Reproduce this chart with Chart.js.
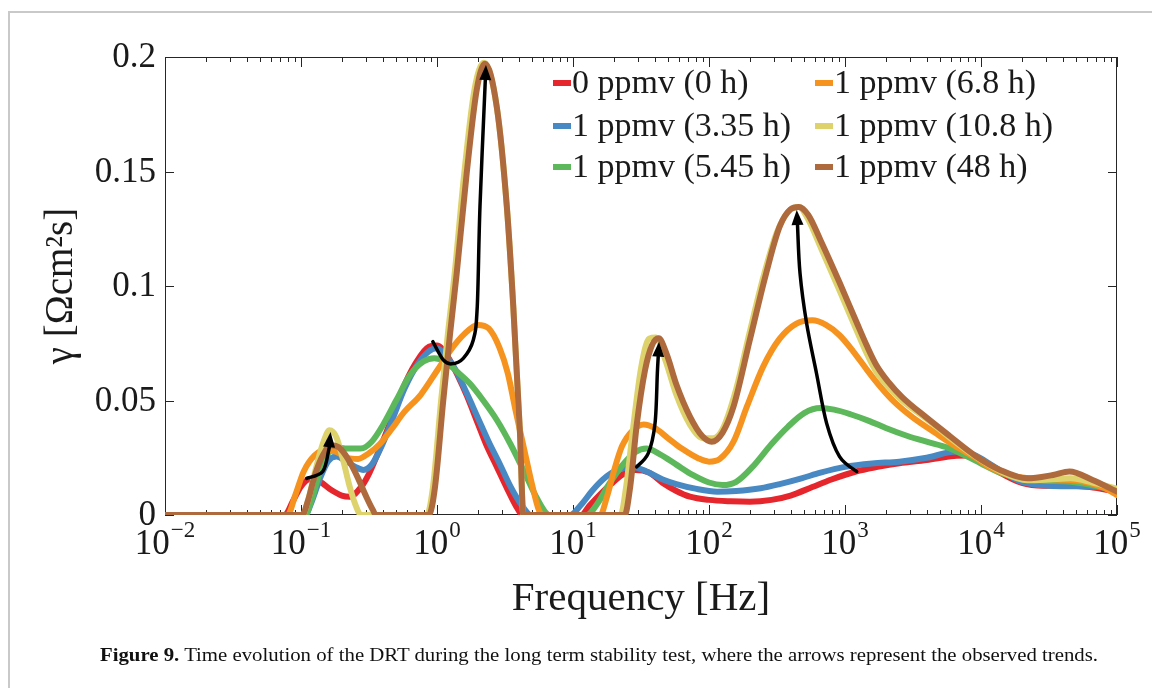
<!DOCTYPE html>
<html>
<head>
<meta charset="utf-8">
<script src="https://cdn.jsdelivr.net/npm/chart.js@4.4.1/dist/chart.umd.min.js"></script>
<style>
  html, body { margin: 0; padding: 0; background: #fff; }
  #wrap { position: relative; width: 1152px; height: 688px; overflow: hidden; background: #fff; }
  #c { position: absolute; left: 0; top: 0; }
  .frameTop { position: absolute; left: 8px; top: 11px; width: 1144px; height: 2px; background: #c9c9c9; }
  .frameLeft { position: absolute; left: 8px; top: 11px; width: 2px; height: 677px; background: #c9c9c9; }
  #caption { position: absolute; left: 100px; top: 644px; white-space: nowrap; transform-origin: 0 0;
             font-family: "Liberation Serif", "Times New Roman", serif; font-size: 19.5px; color: #111; }
  #caption b { font-weight: bold; }
</style>
</head>
<body>
<div id="wrap">
  <canvas id="c" width="1152" height="688"></canvas>
  <div class="frameTop"></div>
  <div class="frameLeft"></div>
  <div id="caption"><b>Figure 9.</b> Time evolution of the DRT during the long term stability test, where the arrows represent the observed trends.</div>
</div>
<script>
// ---------------- DATA (frequency in Hz, gamma in Ohm cm^2 s) ----------------
const seriesLabels = ['0 ppmv (0 h)', '1 ppmv (3.35 h)', '1 ppmv (5.45 h)', '1 ppmv (6.8 h)', '1 ppmv (10.8 h)', '1 ppmv (48 h)'];
const seriesColors = ['#E6262D', '#4989C3', '#5DB85B', '#F6921E', '#DDD26C', '#AE6A3C'];

const redF = [0.01, 0.0759, 0.0871, 0.1, 0.1148, 0.138, 0.166, 0.1995, 0.229, 0.275, 0.316, 0.380, 0.457, 0.550, 0.692, 0.871, 1.0, 1.202, 1.445, 1.660, 1.995, 2.291, 2.754, 3.311, 3.802, 4.266,
  11.48, 13.18, 15.85, 19.05, 22.91, 28.84, 36.31, 45.71, 57.54, 72.44, 100, 144.5, 199.5, 288.4, 398.1, 575.4, 794.3, 1202, 1738, 2512, 3981, 6310, 7943, 10000, 13800, 19950, 28840, 39810, 63100, 100000];
const redG = [0, 0, 0.006, 0.0125, 0.0155, 0.0145, 0.011, 0.0085, 0.008, 0.012, 0.018, 0.029, 0.041, 0.054, 0.066, 0.0735, 0.074, 0.069, 0.060, 0.052, 0.040, 0.031, 0.021, 0.011, 0.004, 0,
  0, 0.004, 0.009, 0.0135, 0.0175, 0.0197, 0.0185, 0.014, 0.0105, 0.008, 0.0066, 0.006, 0.0058, 0.0066, 0.0085, 0.0122, 0.0155, 0.019, 0.021, 0.0226, 0.024, 0.0258, 0.026, 0.024, 0.0185, 0.014, 0.0128, 0.013, 0.0122, 0.0102];

const blueF = [0.01, 0.1072, 0.1202, 0.138, 0.1585, 0.182, 0.209, 0.251, 0.288, 0.331, 0.398, 0.479, 0.575, 0.724, 0.871, 1.0, 1.148, 1.380, 1.660, 1.995, 2.399, 2.884, 3.467, 4.169, 4.898,
  9.55, 11.48, 13.80, 16.60, 20.89, 27.54, 34.67, 45.71, 57.54, 79.43, 114.8, 158.5, 239.9, 331.1, 478.6, 660.7, 1000, 1585, 2512, 3981, 6607, 9120, 11480, 15140, 19950, 31620, 50120, 72440, 100000];
const blueG = [0, 0, 0.006, 0.016, 0.0235, 0.0255, 0.024, 0.021, 0.0197, 0.022, 0.031, 0.043, 0.055, 0.066, 0.0715, 0.0728, 0.070, 0.063, 0.053, 0.0425, 0.032, 0.0225, 0.0125, 0.0045, 0,
  0, 0.0045, 0.0105, 0.0155, 0.0195, 0.021, 0.019, 0.0155, 0.0135, 0.0115, 0.0102, 0.0105, 0.0117, 0.0135, 0.016, 0.0185, 0.021, 0.0225, 0.0233, 0.025, 0.0277, 0.026, 0.0225, 0.018, 0.0145, 0.0128, 0.0125, 0.0122, 0.011];

const greenF = [0.01, 0.1072, 0.1202, 0.138, 0.1585, 0.182, 0.219, 0.275, 0.331, 0.398, 0.501, 0.631, 0.794, 0.955, 1.148, 1.380, 1.738, 2.188, 2.754, 3.467, 4.365, 5.248, 6.31, 6.761,
  12.59, 15.14, 18.20, 22.91, 28.84, 34.67, 43.65, 57.54, 75.86, 100, 125.9, 158.5, 208.9, 288.4, 380.2, 501.2, 660.7, 831.8, 1096, 1514, 1995, 2884, 3981, 5754, 7943, 10000, 13800, 19950, 28840, 45710, 72440, 100000];
const greenG = [0, 0, 0.007, 0.019, 0.027, 0.0295, 0.029, 0.029, 0.032, 0.039, 0.050, 0.061, 0.067, 0.0685, 0.067, 0.063, 0.0575, 0.050, 0.0415, 0.031, 0.019, 0.009, 0.001, 0,
  0, 0.005, 0.013, 0.0215, 0.0275, 0.029, 0.0265, 0.022, 0.0175, 0.0142, 0.0131, 0.0145, 0.021, 0.031, 0.0385, 0.0445, 0.0467, 0.046, 0.044, 0.041, 0.038, 0.0345, 0.032, 0.0293, 0.0255, 0.0225, 0.0185, 0.0158, 0.015, 0.0145, 0.0125, 0.0102];

const orangeF = [0.01, 0.0794, 0.0912, 0.1047, 0.1259, 0.1514, 0.182, 0.219, 0.263, 0.316, 0.380, 0.457, 0.575, 0.759, 1.0, 1.259, 1.585, 1.995, 2.399, 2.884, 3.311, 3.802, 4.365, 5.012, 5.623, 6.026,
  15.85, 17.78, 19.95, 22.91, 27.54, 33.11, 39.81, 50.12, 63.10, 83.18, 100, 120.2, 151.4, 190.5, 251.2, 331.1, 436.5, 575.4, 724.4, 912.0, 1148, 1445, 1820, 2291, 3162, 4571, 6310, 9120, 11480, 15850, 22910, 36310, 57540, 79430, 100000];
const orangeG = [0, 0, 0.009, 0.019, 0.026, 0.0285, 0.0275, 0.025, 0.0245, 0.027, 0.031, 0.037, 0.045, 0.0525, 0.063, 0.072, 0.079, 0.083, 0.0815, 0.073, 0.062, 0.045, 0.029, 0.013, 0.002, 0,
  0, 0.008, 0.019, 0.030, 0.037, 0.0395, 0.038, 0.0335, 0.029, 0.0248, 0.0233, 0.0245, 0.032, 0.0475, 0.065, 0.077, 0.0835, 0.085, 0.083, 0.0785, 0.0715, 0.0635, 0.056, 0.0495, 0.0425, 0.036, 0.0305, 0.025, 0.021, 0.0175, 0.016, 0.0155, 0.0145, 0.012, 0.0087];

const yellowF = [0.01, 0.1023, 0.1122, 0.1259, 0.1445, 0.1622, 0.182, 0.204, 0.229, 0.257, 0.275, 0.841, 0.933, 1.072, 1.202, 1.349, 1.585, 1.884, 2.213, 2.754, 3.258, 3.639, 4.074, 4.315,
  22.39, 24.55, 27.54, 31.62, 36.31, 40.74, 47.86, 57.54, 72.44, 91.20, 107.2, 125.9, 158.5, 199.5, 251.2, 316.2, 398.1, 457.1, 537.0, 660.7, 912.0, 1230, 1445, 1698, 2089, 2630, 3981, 5888, 9120, 13800, 21880, 31620, 45710, 66070, 100000];
const yellowG = [0, 0, 0.006, 0.018, 0.031, 0.037, 0.034, 0.024, 0.012, 0.003, 0, 0, 0.012, 0.05, 0.079, 0.1055, 0.149, 0.1856, 0.1975, 0.178, 0.135, 0.091, 0.036, 0,
  0, 0.012, 0.037, 0.064, 0.077, 0.0775, 0.0675, 0.0525, 0.0395, 0.0335, 0.0335, 0.0375, 0.055, 0.080, 0.104, 0.1235, 0.1335, 0.1345, 0.129, 0.117, 0.098, 0.080, 0.0705, 0.0625, 0.056, 0.050, 0.042, 0.0338, 0.0255, 0.0192, 0.0152, 0.0155, 0.016, 0.0142, 0.0115];

const brownF = [0.01, 0.1023, 0.1122, 0.1259, 0.1445, 0.166, 0.1905, 0.224, 0.263, 0.302, 0.339, 0.355, 0.871, 0.966, 1.112, 1.247, 1.396, 1.652, 1.959, 2.254, 2.754, 3.258, 3.639, 4.074, 4.315,
  23.99, 26.30, 29.51, 33.88, 38.02, 42.66, 48.98, 57.54, 72.44, 89.13, 104.7, 125.9, 151.4, 199.5, 263.0, 331.1, 398.1, 457.1, 537.0, 660.7, 912.0, 1230, 1445, 1698, 2089, 2630, 3981, 5888, 9120, 13800, 21880, 33880, 44670, 66070, 100000];
const brownG = [0, 0, 0.006, 0.017, 0.026, 0.0305, 0.0295, 0.024, 0.016, 0.008, 0.002, 0, 0, 0.012, 0.05, 0.079, 0.1055, 0.149, 0.1856, 0.197, 0.178, 0.135, 0.091, 0.036, 0,
  0, 0.012, 0.040, 0.0633, 0.074, 0.0772, 0.070, 0.057, 0.043, 0.0345, 0.032, 0.036, 0.0473, 0.0764, 0.1055, 0.126, 0.1335, 0.1345, 0.131, 0.120, 0.1015, 0.0835, 0.074, 0.0655, 0.058, 0.0515, 0.0425, 0.0345, 0.0258, 0.0197, 0.016, 0.0175, 0.019, 0.0153, 0.0102];

// Trend arrows (frequency Hz, gamma), last point is the arrow tip
const arrow1F = [0.110, 0.1445, 0.160, 0.165];
const arrow1G = [0.016, 0.019, 0.0284, 0.0362];
const arrow2F = [0.932, 1.112, 1.282, 1.56, 1.849, 1.977, 2.07, 2.29];
const arrow2G = [0.0757, 0.0677, 0.066, 0.0684, 0.0764, 0.091, 0.1346, 0.1965];
const arrow3F = [29.4, 35.8, 40.1, 41.7, 42.9];
const arrow3G = [0.021, 0.027, 0.040, 0.0619, 0.0757];
const arrow4F = [1219, 912, 733, 617, 522, 467, 441.6];
const arrow4G = [0.019, 0.0255, 0.040, 0.0619, 0.0837, 0.1055, 0.1332];

// Axis ticks
const xMin = 0.01, xMax = 100000;
const yMin = 0, yMax = 0.2;
const xMajorTicks = [0.01, 0.1, 1, 10, 100, 1000, 10000, 100000];
const xTickExponents = ['\u22122', '\u22121', '0', '1', '2', '3', '4', '5'];
const yTickValues = [0, 0.05, 0.1, 0.15, 0.2];
const yTickLabels = ['0', '0.05', '0.1', '0.15', '0.2'];
const xTitle = 'Frequency [Hz]';
const yTitle = '\u03B3 [\u03A9cm\u00B2s]';

// ---------------- BUILD ----------------
const FONT = '"Liberation Serif", "Times New Roman", serif';
const allF = [redF, blueF, greenF, orangeF, yellowF, brownF];
const allG = [redG, blueG, greenG, orangeG, yellowG, brownG];
const datasets = allF.map((fs, i) => ({
  label: seriesLabels[i],
  data: fs.map((f, k) => ({ x: f, y: allG[i][k] })),
  borderColor: seriesColors[i],
  backgroundColor: seriesColors[i],
  borderWidth: 6,
  pointRadius: 0,
  fill: false,
  order: allF.length - 1 - i,
  cubicInterpolationMode: 'monotone',
  borderCapStyle: 'round',
  borderJoinStyle: 'round'
}));

function catmull(ctx, pts) {
  ctx.moveTo(pts[0][0], pts[0][1]);
  for (let i = 0; i < pts.length - 1; i++) {
    const p0 = pts[Math.max(0, i - 1)], p1 = pts[i], p2 = pts[i + 1], p3 = pts[Math.min(pts.length - 1, i + 2)];
    const c1 = [p1[0] + (p2[0] - p0[0]) / 6, p1[1] + (p2[1] - p0[1]) / 6];
    const c2 = [p2[0] - (p3[0] - p1[0]) / 6, p2[1] - (p3[1] - p1[1]) / 6];
    ctx.bezierCurveTo(c1[0], c1[1], c2[0], c2[1], p2[0], p2[1]);
  }
}

const decor = {
  id: 'decor',
  beforeDatasetsDraw(chart) {
    const { ctx, chartArea: a, scales: { x, y } } = chart;
    ctx.save();
    ctx.strokeStyle = '#262626';
    ctx.lineWidth = 1;
    ctx.strokeRect(a.left + 0.5, a.top + 0.5, a.right - a.left - 1, a.bottom - a.top - 1);
    ctx.beginPath();
    for (let d = 0; d < xMajorTicks.length; d++) {
      const base = xMajorTicks[d];
      for (let m = 1; m <= 9; m++) {
        const v = base * m;
        if (v > xMax + 1e-9) break;
        const px = Math.round(x.getPixelForValue(v)) + 0.5;
        const len = (m === 1) ? 10 : 5;
        ctx.moveTo(px, a.bottom); ctx.lineTo(px, a.bottom - len);
        ctx.moveTo(px, a.top); ctx.lineTo(px, a.top + len);
      }
    }
    yTickValues.forEach(v => {
      const py = Math.round(y.getPixelForValue(v)) + 0.5;
      ctx.moveTo(a.left, py); ctx.lineTo(a.left + 9, py);
      ctx.moveTo(a.right, py); ctx.lineTo(a.right - 9, py);
    });
    ctx.stroke();

    ctx.fillStyle = '#1a1a1a';
    ctx.font = '35px ' + FONT;
    ctx.textAlign = 'right';
    ctx.textBaseline = 'middle';
    yTickValues.forEach((v, i) => {
      ctx.fillText(yTickLabels[i], a.left - 9, y.getPixelForValue(v) + 1);
    });
    ctx.textBaseline = 'alphabetic';
    xMajorTicks.forEach((v, i) => {
      const px = x.getPixelForValue(v);
      ctx.font = '35px ' + FONT;
      const wb = ctx.measureText('10').width;
      ctx.font = '23px ' + FONT;
      const we = ctx.measureText(xTickExponents[i]).width;
      const left = px - (wb + we + 1) / 2;
      ctx.textAlign = 'left';
      ctx.font = '35px ' + FONT;
      ctx.fillText('10', left, a.bottom + 39);
      ctx.font = '23px ' + FONT;
      ctx.fillText(xTickExponents[i], left + wb + 1, a.bottom + 22);
    });
    ctx.textAlign = 'center';
    ctx.font = '41px ' + FONT;
    ctx.fillText(xTitle, (a.left + a.right) / 2, a.bottom + 95);
    ctx.save();
    ctx.translate(72, (a.top + a.bottom) / 2);
    ctx.rotate(-Math.PI / 2);
    ctx.font = '39px ' + FONT;
    ctx.fillText(yTitle, 0, 0);
    ctx.restore();
    ctx.restore();
  },
  afterDatasetsDraw(chart) {
    const { ctx, scales: { x, y } } = chart;
    ctx.save();
    [[arrow1F, arrow1G], [arrow2F, arrow2G], [arrow3F, arrow3G], [arrow4F, arrow4G]].forEach(([fs, gs]) => {
      const pts = fs.map((f, k) => [x.getPixelForValue(f), y.getPixelForValue(gs[k])]);
      const tip = pts[pts.length - 1];
      const prev = pts[pts.length - 2];
      let dx = tip[0] - prev[0], dy = tip[1] - prev[1];
      const L = Math.hypot(dx, dy); dx /= L; dy /= L;
      const headLen = 15, headW = 6;
      const base = [tip[0] - dx * headLen, tip[1] - dy * headLen];
      const linePts = pts.slice(0, -1).concat([base]);
      ctx.strokeStyle = '#000';
      ctx.lineWidth = 3.5;
      ctx.lineCap = 'round';
      ctx.beginPath();
      catmull(ctx, linePts);
      ctx.stroke();
      ctx.fillStyle = '#000';
      ctx.beginPath();
      ctx.moveTo(tip[0], tip[1]);
      ctx.lineTo(base[0] - dy * headW, base[1] + dx * headW);
      ctx.lineTo(base[0] + dy * headW, base[1] - dx * headW);
      ctx.closePath();
      ctx.fill();
    });
    const colX = [553, 815];
    const rowY = [83, 126, 167];
    ctx.font = '34px ' + FONT;
    ctx.textAlign = 'left';
    ctx.textBaseline = 'middle';
    chart.data.datasets.forEach((ds, i) => {
      const col = Math.floor(i / 3), row = i % 3;
      const sx = colX[col], sy = rowY[row];
      ctx.fillStyle = ds.borderColor;
      ctx.fillRect(sx, sy - 3, 18, 6);
      ctx.fillStyle = '#1a1a1a';
      ctx.fillText(ds.label, sx + 19, sy + 1);
    });
    ctx.restore();
  }
};

new Chart(document.getElementById('c'), {
  type: 'line',
  data: { datasets },
  options: {
    responsive: false,
    animation: false,
    devicePixelRatio: 1,
    layout: { padding: { left: 165, top: 57, right: 35, bottom: 173 } },
    scales: {
      x: { type: 'logarithmic', min: xMin, max: xMax, display: false },
      y: { type: 'linear', min: yMin, max: yMax, display: false }
    },
    plugins: { legend: { display: false }, tooltip: { enabled: false } }
  },
  plugins: [decor]
});

(function () {
  const cap = document.getElementById('caption');
  const target = 998;
  const w = cap.getBoundingClientRect().width;
  if (w > 0) cap.style.transform = 'scaleX(' + (target / w).toFixed(4) + ')';
})();
</script>
</body>
</html>
